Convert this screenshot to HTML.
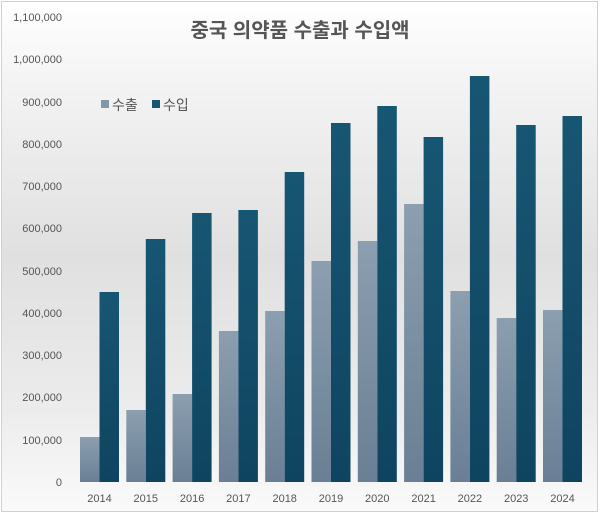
<!DOCTYPE html>
<html><head><meta charset="utf-8"><style>
html,body{margin:0;padding:0;background:#fff}
svg{display:block}
text{font-family:"Liberation Sans","Noto Sans CJK KR",sans-serif}
</style></head><body>
<svg width="600" height="514" viewBox="0 0 600 514" xmlns="http://www.w3.org/2000/svg">
<defs>
<linearGradient id="bg" x1="0" y1="0" x2="0" y2="1">
<stop offset="0" stop-color="#ffffff"/>
<stop offset="0.15" stop-color="#f4f4f4"/>
<stop offset="0.5" stop-color="#e0e0e0"/>
<stop offset="0.8" stop-color="#ececec"/>
<stop offset="1" stop-color="#fafafa"/>
</linearGradient>
<linearGradient id="ex" x1="0" y1="0" x2="0" y2="1">
<stop offset="0" stop-color="#8c9fb0"/>
<stop offset="1" stop-color="#6a7f95"/>
</linearGradient>
<linearGradient id="im" x1="0" y1="0" x2="0" y2="1">
<stop offset="0" stop-color="#175673"/>
<stop offset="1" stop-color="#0f4460"/>
</linearGradient>
</defs>
<rect x="0" y="0" width="600" height="514" fill="#fff"/>
<rect x="1.5" y="1.5" width="596" height="510" fill="url(#bg)" stroke="#d0d0d0" stroke-width="1"/>
<text x="300" y="37" text-anchor="middle" font-size="20" font-weight="bold" fill="#555">중국 의약품 수출과 수입액</text>
<g font-size="11" fill="#555" text-anchor="end">
<text x="62" y="486">0</text>
<text x="62" y="444">100,000</text>
<text x="62" y="401">200,000</text>
<text x="62" y="359">300,000</text>
<text x="62" y="317">400,000</text>
<text x="62" y="275">500,000</text>
<text x="62" y="232">600,000</text>
<text x="62" y="190">700,000</text>
<text x="62" y="148">800,000</text>
<text x="62" y="106">900,000</text>
<text x="62" y="63">1,000,000</text>
<text x="62" y="21">1,100,000</text>
</g>
<rect x="101" y="100" width="8" height="8" fill="#8397ab"/>
<text x="112" y="110" font-size="14" fill="#555">수출</text>
<rect x="152" y="100" width="8" height="8" fill="#175673"/>
<text x="163" y="110" font-size="14" fill="#555">수입</text>
<g id="bars"></g>
<g font-size="11" fill="#555" text-anchor="middle" id="xl"></g>
<script>
var ex=[437,410,394,331,311,261,241,204,291,318,310];
var im=[292,239,213,210,172,123,106,137,76,125,116];
var g=document.getElementById('bars'),xl=document.getElementById('xl'),ns='http://www.w3.org/2000/svg';
for(var i=0;i<11;i++){
 var c=99.5+i*46.3;
 var a=document.createElementNS(ns,'rect');a.setAttribute('x',c-19.5);a.setAttribute('y',ex[i]);a.setAttribute('width',19.5);a.setAttribute('height',482-ex[i]);a.setAttribute('fill','url(#ex)');g.appendChild(a);
 var b=document.createElementNS(ns,'rect');b.setAttribute('x',c);b.setAttribute('y',im[i]);b.setAttribute('width',19.5);b.setAttribute('height',482-im[i]);b.setAttribute('fill','url(#im)');g.appendChild(b);
 var t=document.createElementNS(ns,'text');t.setAttribute('x',c);t.setAttribute('y',502);t.textContent=2014+i;xl.appendChild(t);
}
</script>
</svg>
</body></html>
